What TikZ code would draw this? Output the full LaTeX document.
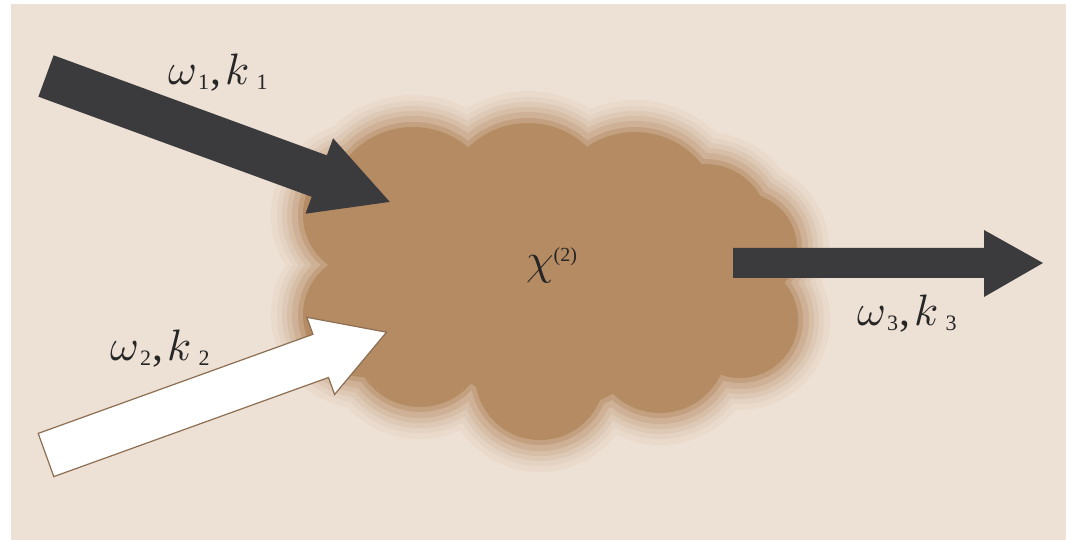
\documentclass[tikz,border=0pt]{standalone}
\usepackage{fontspec}
\usepackage{unicode-math}
\setmainfont{Liberation Serif}
\definecolor{bg}{HTML}{EDE0D4}
\definecolor{cloudc}{HTML}{B48B63}
\definecolor{darkarrow}{HTML}{3B3B3D}
\definecolor{outl}{HTML}{8C6E52}
\definecolor{ink}{HTML}{262626}
\newcommand\subdig[1]{\raisebox{-5pt}{\fontsize{22}{22}\selectfont #1}}
\newcommand\wklabel[1]{$\omega$\kern2pt\subdig{#1}\kern1pt,\kern4pt$k$\kern8pt\subdig{#1}}
\newcommand\cloudlayer[2]{%
  \foreach \cx/\cy/\r in {413/212/85, 528/208/85, 635/217/85, 705/228/64, 742/248/55, 740/320/58,
     660/346/67, 540/375/65, 420/340/67, 365/215/62, 365/315/62, 550/280/130}
    {\fill[#2] (\cx,\cy) circle[radius={(\r+#1)*1pt}];}}
\begin{document}
\begin{tikzpicture}[x=1pt,y=-1pt,
  lbl/.style={anchor=base west, inner sep=0pt, text=ink, font=\fontsize{44}{44}\selectfont},
  darrow/.style={fill=darkarrow},
  warrow/.style={fill=white, draw=outl, line width=1.2pt, line join=miter}]
\useasboundingbox (0,0) rectangle (1066,540);
\fill[white] (0,0) rectangle (1066,540);
\fill[bg] (11,4) rectangle (1066,540);
% cloud with fuzzy layered edge
\cloudlayer{32}{cloudc!7!bg}
\cloudlayer{26}{cloudc!16!bg}
\cloudlayer{21}{cloudc!27!bg}
\cloudlayer{16}{cloudc!40!bg}
\cloudlayer{11}{cloudc!55!bg}
\cloudlayer{5}{cloudc!74!bg}
\cloudlayer{0}{cloudc}
% arrow 1 (incoming, dark)
\fill[darrow] (53.6,55.3) -- (326.9,155.4) -- (333.1,138.3) -- (389.8,201.9)
  -- (305.5,213.7) -- (311.7,196.8) -- (38.4,96.7) -- cycle;
% arrow 2 (incoming, white)
\draw[warrow] (38.2,433.4) -- (312.9,334.3) -- (306.8,317.3) -- (386.5,332.2)
  -- (334.6,394.5) -- (328.5,377.5) -- (53.8,476.6) -- cycle;
% arrow 3 (outgoing, dark)
\fill[darrow] (733,248) -- (984,248) -- (984,230) -- (1043,263) -- (984,297) -- (984,278) -- (733,278) -- cycle;
% labels
\node[lbl] (l1) at (168,85) {\wklabel{1}};
\node[lbl] (l2) at (110,360) {\wklabel{2}};
\node[lbl] (l3) at (857,325) {\wklabel{3}};
\node[lbl] (chi) at (526,274) {$\chi$\raisebox{13pt}{\fontsize{20}{20}\selectfont (2)}};
\end{tikzpicture}
\end{document}
